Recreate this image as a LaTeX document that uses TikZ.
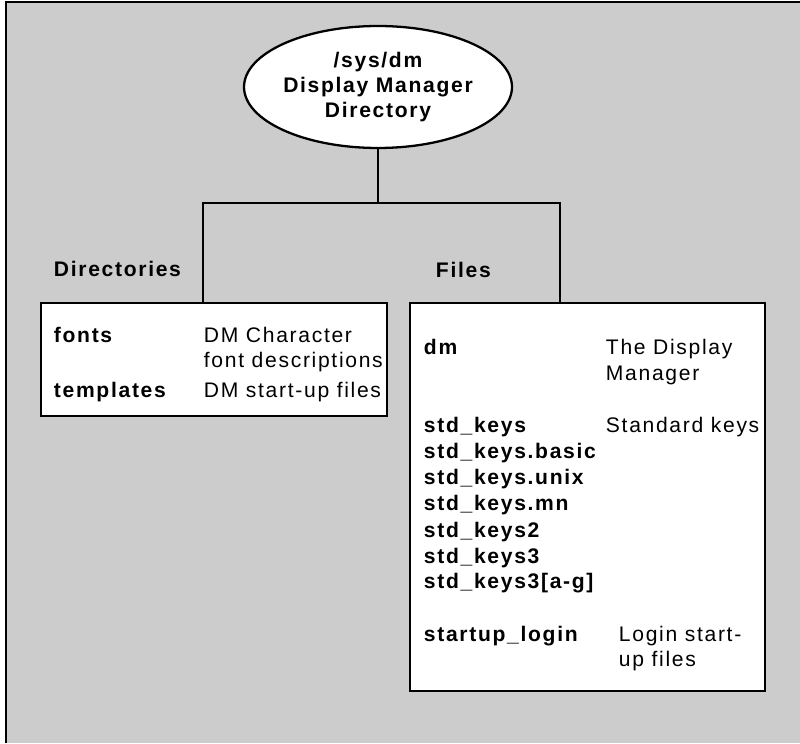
\documentclass[tikz,border=0pt]{standalone}
\usepackage{fontspec}
\setmainfont{Liberation Sans}[LetterSpace=8]
\usetikzlibrary{shapes.geometric}
\tikzset{
  box/.style={draw, line width=1.4pt, fill=white, inner sep=0pt},
  fname/.style={anchor=base west, inner sep=0pt, font=\fontsize{12}{14.2}\selectfont\bfseries},
  fdesc/.style={anchor=base west, inner sep=0pt, font=\fontsize{12}{14.2}\selectfont},
  heading/.style={anchor=base west, inner sep=0pt, font=\fontsize{12}{14.2}\selectfont\bfseries}
}
\begin{document}
\begin{tikzpicture}[x=0.02cm, y=-0.02cm, line width=1.1pt]
\useasboundingbox (0,0) rectangle (800,743);
\fill[black!20] (6,2) rectangle (800,743);
\draw[line width=1.3pt] (6,743) -- (6,2) -- (800,2);
\node[ellipse, draw, line width=1.3pt, fill=white, minimum width=4.8cm, minimum height=2.44cm, inner sep=0pt, align=center,
  font=\fontsize{12}{14.2}\selectfont\bfseries] (root) at (378,87) {/sys/dm\\Display Manager\\Directory};
\node[box, minimum width=6.92cm, minimum height=2.26cm] (dirs) at (214,359.5) {};
\node[box, minimum width=7.1cm, minimum height=7.76cm] (files) at (587.5,497) {};
\coordinate (barL) at (203,203);
\coordinate (barR) at (560,203);
\draw (root.south) -- (root.south |- barL);
\draw (dirs.north -| barL) -- (barL) -- (barR) -- (files.north -| barR);
\node[heading] (dirhead) at (53,276) {Directories};
\node[heading] (filehead) at (435,277) {Files};
\node[fname] (fonts) at (53,342) {fonts};
\node[fdesc] (fontsd) at (203,342) {DM Character};
\node[fdesc] (fontsd2) at (203,367) {font descriptions};
\node[fname] (tmpl) at (53,397) {templates};
\node[fdesc] (tmpld) at (203,397) {DM start-up files};
\node[fname] (dm) at (423,354) {dm};
\node[fdesc] (dmd) at (605,354) {The Display};
\node[fdesc] (dmd2) at (605,380) {Manager};
\node[fname] (k1) at (423,432) {std\_keys};
\node[fdesc] (k1d) at (605,432) {Standard keys};
\node[fname] (k2) at (423,458) {std\_keys.basic};
\node[fname] (k3) at (423,484) {std\_keys.unix};
\node[fname] (k4) at (423,510) {std\_keys.mn};
\node[fname] (k5) at (423,537) {std\_keys2};
\node[fname] (k6) at (423,563) {std\_keys3};
\node[fname] (k7) at (423,588) {std\_keys3[a-g]};
\node[fname] (login) at (423,641) {startup\_login};
\node[fdesc] (logind) at (618,641) {Login start-};
\node[fdesc] (logind2) at (618,666) {up files};
\end{tikzpicture}
\end{document}
